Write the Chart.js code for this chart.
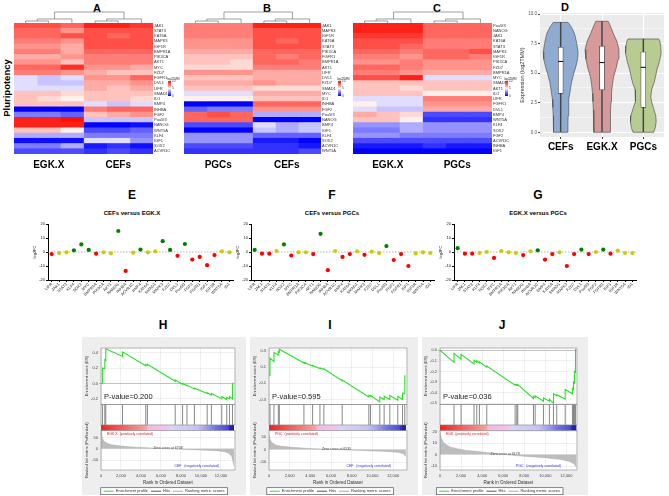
<!DOCTYPE html>
<html>
<head>
<meta charset="utf-8">
<script src="https://cdn.jsdelivr.net/npm/chart.js@4.4.1/dist/chart.umd.min.js"></script>
<style>
  body { margin: 0; width: 669px; height: 496px; position: relative; overflow: hidden; background: #fff; font-family: "Liberation Sans", Arial, sans-serif; }
  canvas { position: absolute; }
  .lbl { position: absolute; font-weight: bold; color: #000; transform: translate(-50%, -50%); white-space: nowrap; line-height: 1; }
</style>
</head>
<body>
<div class="lbl" style="left:97px;top:8px;font-size:11px">A</div>
<div class="lbl" style="left:267px;top:8px;font-size:11px">B</div>
<div class="lbl" style="left:437px;top:8px;font-size:11px">C</div>
<div class="lbl" style="left:565px;top:7px;font-size:11px">D</div>
<div class="lbl" style="left:7px;top:88px;font-size:9.5px;transform:translate(-50%,-50%) rotate(-90deg)">Pluripotency</div>
<div class="lbl" style="left:132px;top:195px;font-size:12px">E</div>
<div class="lbl" style="left:132px;top:213px;font-size:6px">CEFs versus EGK.X</div>
<div class="lbl" style="left:332px;top:195px;font-size:12px">F</div>
<div class="lbl" style="left:332px;top:213px;font-size:6px">CEFs versus PGCs</div>
<div class="lbl" style="left:538px;top:195px;font-size:12px">G</div>
<div class="lbl" style="left:538px;top:213px;font-size:6px">EGK.X versus PGCs</div>
<div class="lbl" style="left:163px;top:325px;font-size:12px">H</div>
<div class="lbl" style="left:330px;top:325px;font-size:12px">I</div>
<div class="lbl" style="left:502px;top:325px;font-size:12px">J</div>
<script>
// ---- heatmaps (log2TMM, 3 replicates per group) ----
const genesA = ["JAK1","STAT3","KAT6A","MAPK3","IGF1R","BMPR1A","PIK3CA","AKT1","MYC","FZD7","FGFR1","DVL1","LIFR","SMAD1","ID1","BMP4","INHBA","FGF2","Pou5f3","NANOG","WNT5A","KLF4","IGF1","SOX2","ACVR1C"];
const heatA = [
  [8.5,8.5,8,9.5,9.5,9],[8,8,7,8.5,8.5,8.5],[8,8,8.5,8.5,8,8.5],[7.5,7.5,7,8.5,8.5,8.5],[7,7,6.5,8.5,8.5,8.5],
  [7.5,7.5,6.5,8,8,8],[6.5,6.5,7,7.5,7.5,7.5],[7,7,6,7.5,7.5,7.5],[8,8,9.2,7,7,6.5],[7.5,7.5,7,6.5,6,6],
  [4.5,4,4.5,7,7,8],[4.5,4,4,6.5,6.5,7],[4.5,4.5,4.5,6.5,6,6.5],[6,6,5.5,6,6,6],[6,5.5,5,6,6,5.5],
  [6,6,6,4.5,4,4.5],[0,0,0,7.5,8,8],[2.5,2.5,2,6,6.5,7],[9.5,9.5,9.8,4,4,4],[9.5,9.5,9.5,0,0,0.3],
  [6,6,5,1.5,1.5,2],[3.5,3.5,3.5,2.5,2.5,2.5],[0.3,0.3,0.3,4.5,4.5,3],[2.5,2.5,3.5,0.5,1,0.3],[1.5,1.5,1.5,1,1.5,1]
];
const genesB = ["JAK1","MAPK3","IGF1R","KAT6A","STAT3","PIK3CA","FGFR1","BMPR1A","AKT1","LIFR","DVL1","FZD7","SMAD1","MYC","ID1","INHBA","FGF2","Pou5f3","NANOG","BMP4","IGF1","KLF4","SOX2","ACVR1C","WNT5A"];
const heatB = [
  [7.5,7.5,7.5,9.5,9.5,9.5],[7.5,7.5,7.5,8.5,8.5,8.5],[7.5,7.5,7.5,8.5,8.5,8.5],[7,7,7,8.5,8,8.5],[7,7,7,8.5,8.5,8.5],
  [6.5,6.5,6.5,8,8,8],[6,6,6,8,7.5,8],[6,6,5.5,8,8,7.5],[5.5,5.5,5.5,7.5,7.5,7.5],[7,7,7,6.5,6.5,6.5],
  [6,6,6,6.5,6.5,6.5],[6.5,6.5,6.5,7,6.5,6.5],[6,6,6,5.5,5.5,5.5],[4.5,4.5,4.5,6.5,6.5,6.5],[5,5,5,6,6,6],
  [0,0,0,8,8,8],[2,2.5,2.5,7,7,7],[8,8.5,8,3.5,3.5,3.5],[8,8,8,0,0,0],[1.5,1.5,1.5,4.5,3.5,4],
  [0,0,0,4,3.5,4],[3,3,3,2,2,2],[3,3,3,0.5,0.5,0],[1.5,1.5,1.5,1,1,0.5],[1,1,1,1,1,1.5]
];
const genesC = ["Pou5f3","NANOG","JAK1","KAT6A","STAT3","MAPK3","IGF1R","PIK3CA","FZD7","BMPR1A","MYC","SMAD1","AKT1","ID1","LIFR","FGFR1","DVL1","BMP4","WNT5A","KLF4","SOX2","FGF2","ACVR1C","INHBA","IGF1"];
const heatC = [
  [9.5,9.5,9.5,8,8,8],[9.5,9.5,9.5,8,8,8],[9,9,9,8,8,8],[8.5,8.5,8.5,7.5,7.5,7.5],[8.5,8.5,8,7.5,7.5,7.5],
  [8,8,7.5,8,8,8.5],[7.5,7.5,7,8,8,7.5],[7,7,7.5,7,7,7],[8,8,7.5,7,7,7],[7.5,7.5,7,6.5,6.5,6.5],
  [8.5,8.5,9.5,4.5,4.5,4.5],[6,6,6,6,6,6],[6,6,5.5,6,6,6],[6,6,6,5,5,5],[4.5,4.5,4.5,7.5,7.5,7.5],
  [5,4.5,4.5,7,7,7],[4.5,4,4,6.5,6.5,6.5],[6.5,6,5.5,1.5,1.5,1.5],[6,6,5,1,1,1],[3,3,3.5,3,3,3],
  [2.5,2.5,3.5,3,3,3],[3,3,2.5,2.5,2.5,2.5],[1.5,1.5,1.5,1.5,1.5,1.5],[0.5,0.5,0.5,1,0.5,0.5],[0,0,0,0,0,0]
];
const keyTicks = [10, 5, 0];

// ---- violin plot ----
const groupsD = ["CEFs", "EGK.X", "PGCs"];
// [expression, half width]
const violinCEF = [[0,0.17],[0.7,0.175],[1.4,0.18],[2.1,0.19],[2.8,0.2],[3.5,0.23],[4.2,0.26],[4.9,0.31],[5.6,0.37],[6.2,0.41],[6.8,0.42],[7.5,0.39],[8.0,0.36],[8.4,0.33],[8.9,0.26],[9.3,0.18]];
const violinEGK = [[0,0.195],[1,0.2],[1.9,0.21],[2.6,0.22],[3.3,0.23],[4,0.25],[4.7,0.28],[5.4,0.34],[6.2,0.39],[7.0,0.41],[7.7,0.36],[8.4,0.27],[9.0,0.2],[9.4,0.15]];
const violinPGC = [[0,0.25],[0.4,0.29],[0.9,0.31],[1.4,0.3],[2.0,0.25],[2.6,0.2],[3.0,0.18],[3.6,0.2],[4.2,0.26],[4.8,0.3],[5.3,0.33],[6.0,0.39],[6.7,0.43],[7.3,0.42],[7.7,0.4],[7.9,0.37]];
const boxQ = [[3.3,7.2],[3.6,7.3],[2.1,6.8]];
const boxMed = [6.0, 5.9, 5.5];
const boxRange = [[0,9.3],[0,9.4],[0,7.9]];

// ---- log2FC dot plots ----
const fcGenes = ["LIFR","JAK1","STAT3","KLF4","SOX2","MYC","BMPR1A","PIK3CA","AKT1","NANOG","INHBA","ACVR1C","BMP4","KAT6A","SMAD1","MAPK3","FZD7","DVL1","Pou5f3","FGF2","FGFR1","IGF1","IGF1R","WNT5A","ID1"];
const fcE = [-1.5,-0.7,-0.2,1.2,5.4,1.5,-1.2,-0.2,-1,15,-13.5,-0.5,1.7,-0.2,0.5,7.7,1.5,-2.7,5.7,-5.4,-3.5,-9.4,-2.2,0.5,-0.2];
const sigE = ["down","ns","ns","up","up","up","down","ns","ns","up","down","ns","up","ns","ns","up","up","down","up","down","down","down","down","ns","ns"];
const fcF = [1.5,-1.2,-1.2,0.7,5.4,-2.5,-0.2,-0.2,-1.5,13,-13,0.7,-3.5,-1.5,0.5,-2,0.2,-0.7,4.2,-5.7,-1.5,-10,-1,-0.2,-0.7];
const sigF = ["up","down","down","ns","up","down","ns","ns","down","up","down","ns","down","down","ns","down","ns","ns","up","down","down","down","ns","ns","ns"];
const fcG = [2.7,-1.2,-1.2,-0.7,0,-4.2,0.7,-0.2,-0.7,-2.2,0.5,1.2,-5.4,-1.5,-0.2,-10,-1.5,1.7,-1.5,0,1.7,-1.2,1,-0.7,-0.7];
const sigG = ["up","down","down","ns","ns","down","ns","ns","ns","down","ns","up","down","down","ns","down","down","up","down","ns","up","down","ns","ns","ns"];

// ---- GSEA ----  [rank, running ES]
const rankTicks = [0, 2000, 4000, 6000, 8000, 10000, 12000];
const esH = [[0,0],[160,0],[160,0.2],[380,0.19],[380,0.31],[480,0.3],[480,0.45],[2150,0.35],[2150,0.41],[4480,0.23],[4480,0.245],[4640,0.235],[4640,0.25],[7420,0.03],[7420,0.045],[8160,-0.01],[8160,0.0],[8600,-0.03],[8600,-0.02],[9340,-0.07],[9340,-0.06],[10620,-0.13],[10620,-0.12],[11040,-0.15],[11040,-0.13],[12080,-0.2],[12080,-0.17],[12580,-0.21],[12580,-0.18],[12860,-0.2],[12860,-0.17],[13150,-0.2],[13150,0.01]];
const hitsH = [160,380,480,2150,4480,4640,7420,8160,8600,9340,10620,11040,12080,12580,12860,13150];
const metricH = [[0,80],[60,60],[150,45],[300,33],[600,24],[1000,18],[2000,12],[3000,8.5],[4500,5],[6708,0],[8500,-3],[10000,-5],[11500,-8],[12300,-12],[12800,-20],[13100,-35],[13300,-75]];
const esI = [[0,0],[97,0],[97,0.21],[480,0.17],[480,0.28],[900,0.25],[900,0.29],[1000,0.285],[1000,0.32],[3380,0.15],[3380,0.16],[4220,0.11],[4220,0.12],[4930,0.08],[4930,0.09],[5310,0.07],[5310,0.08],[7080,-0.07],[7080,-0.06],[9660,-0.27],[9660,-0.25],[9820,-0.26],[9820,-0.25],[10720,-0.33],[10720,-0.27],[11140,-0.3],[11140,-0.26],[11690,-0.3],[11690,-0.25],[12460,-0.31],[12460,-0.26],[12920,-0.3],[12920,-0.22],[13140,-0.23],[13140,0.0]];
const hitsI = [97,480,900,1000,3380,4220,4930,5310,7080,9660,9820,10720,11140,11690,12460,12920,13140];
const metricI = [[0,60],[100,40],[300,27],[700,17],[1200,13],[2500,8],[4000,4],[6535,0],[9000,-4],[11000,-7],[12500,-11],[13000,-17],[13250,-28]];
const esJ = [[0,0],[1330,-0.115],[1330,-0.03],[2000,-0.085],[2000,-0.04],[3230,-0.13],[3230,-0.095],[3490,-0.115],[3490,-0.1],[3740,-0.12],[3740,-0.11],[4440,-0.16],[4440,-0.15],[7130,-0.33],[7130,-0.32],[7290,-0.33],[7290,-0.325],[7380,-0.33],[7380,-0.325],[8870,-0.455],[8870,-0.435],[9030,-0.445],[9030,-0.43],[9820,-0.48],[9820,-0.45],[10380,-0.48],[10380,-0.46],[10770,-0.5],[10770,-0.41],[11080,-0.43],[11080,-0.42],[11880,-0.46],[11880,-0.37],[12570,-0.41],[12570,-0.36],[12670,-0.37],[12670,-0.3],[12760,-0.31],[12760,-0.2],[12860,-0.21],[12860,0.01]];
const hitsJ = [1330,2000,3230,3490,3740,4440,7130,7290,7380,8870,9030,9820,10380,10770,11080,11880,12570,12670,12760,12860];
const metricJ = [[0,20],[100,15],[300,11],[600,8.5],[1000,6.5],[1600,5.2],[2500,3.6],[3800,2.5],[5000,1.2],[6179,0],[8000,-1.5],[10000,-2.8],[11500,-4.3],[12300,-6],[12700,-8],[12950,-11]];

// ---- styles ----
Chart.defaults.font.family = "'Liberation Sans', Arial, sans-serif";
Chart.defaults.animation = false;
Chart.defaults.responsive = false;
Chart.defaults.plugins.tooltip.enabled = false;
Chart.defaults.plugins.legend.display = false;

const sigColor = { up: "#008000", down: "#FF0000", ns: "#CCCC00" };
const violinFill = ["rgba(128,160,205,0.85)", "rgba(210,140,140,0.85)", "rgba(178,200,135,0.9)"];
const bandStops = [[0,"#EE2222"],[0.12,"#F25050"],[0.34,"#F7A0A0"],[0.35,"#F4B8E2"],[0.5,"#F0C4EC"],[0.52,"#D6D6F6"],[0.72,"#C4C4F4"],[0.8,"#9A9AEC"],[0.86,"#7272E6"],[0.95,"#4C4CDA"],[0.97,"#2424BE"],[1,"#1A1AAA"]];

function heatColor(v) {
  const t = Math.max(0, Math.min(1, v / 10));
  if (t < 0.5) {
    const k = t / 0.5;
    return `rgb(${Math.round(250 * k)},${Math.round(245 * k)},255)`;
  }
  const k = (t - 0.5) / 0.5;
  return `rgb(255,${Math.round(240 * (1 - k) + 10 * k)},${Math.round(235 * (1 - k))})`;
}

const isMajor = v => Math.abs(v / 2.5 - Math.round(v / 2.5)) < 1e-6;

// create canvas, then shift padding so the plot area lands on target
function makeChart(box, target, config) {
  const cv = document.createElement("canvas");
  cv.width = box[2]; cv.height = box[3];
  cv.style.left = box[0] + "px"; cv.style.top = box[1] + "px";
  document.body.appendChild(cv);
  const pad = { left: 0, top: 0, right: 0, bottom: 0 };
  config.options.layout = { padding: pad };
  const chart = new Chart(cv, config);
  for (let i = 0; i < 2; i++) {
    const a = chart.chartArea;
    pad.left += (target[0] - box[0]) - a.left;
    pad.top += (target[1] - box[1]) - a.top;
    pad.right += a.right - (target[2] - box[0]);
    pad.bottom += a.bottom - (target[3] - box[1]);
    chart.update();
  }
  return chart;
}

// ---- plugins ----
const dendro = {
  id: "dendro",
  afterDraw(chart) {
    const { ctx, chartArea: a, scales: { x } } = chart;
    const cx = c => x.getPixelForValue(c + 0.5);
    const seg = (x1, y1, x2, y2) => { ctx.beginPath(); ctx.moveTo(x1, y1); ctx.lineTo(x2, y2); ctx.stroke(); };
    ctx.save();
    ctx.strokeStyle = "#777"; ctx.lineWidth = 0.7;
    const mids = [];
    [0, 3].forEach(s => {
      const y1 = a.top - 2, y2 = a.top - 4;
      const a0 = cx(s), a1 = cx(s + 1), a2 = cx(s + 2);
      seg(a0, a.top, a0, y1); seg(a1, a.top, a1, y1); seg(a0, y1, a1, y1);
      const m = (a0 + a1) / 2;
      seg(m, y1, m, y2); seg(a2, a.top, a2, y2); seg(m, y2, a2, y2);
      mids.push((m + a2) / 2);
    });
    const yt = a.top - 11;
    mids.forEach(m => seg(m, a.top - 4, m, yt));
    seg(mids[0], yt, mids[1], yt);
    ctx.restore();
  }
};

const colorKey = {
  id: "colorKey",
  afterDraw(chart, args, o) {
    const ctx = chart.ctx, x = o.x, y = o.y, w = 3, h = 15;
    const g = ctx.createLinearGradient(0, y, 0, y + h);
    g.addColorStop(0, heatColor(10)); g.addColorStop(0.5, heatColor(5)); g.addColorStop(1, heatColor(0));
    ctx.save();
    ctx.fillStyle = g; ctx.fillRect(x, y, w, h);
    ctx.fillStyle = "#333"; ctx.font = "3px 'Liberation Sans'";
    ctx.textBaseline = "middle";
    ctx.fillText("log2TMM", x - 1, y - 2);
    keyTicks.forEach((t, i) => ctx.fillText(String(t), x + w + 1, y + i * h / (keyTicks.length - 1)));
    ctx.restore();
  }
};

const zeroLine = {
  id: "zeroLine",
  beforeDatasetsDraw(chart) {
    const { ctx, chartArea: a, scales: { y } } = chart;
    const py = y.getPixelForValue(0);
    ctx.save();
    ctx.setLineDash([1.5, 1.5]); ctx.strokeStyle = "#888"; ctx.lineWidth = 0.6;
    ctx.beginPath(); ctx.moveTo(a.left, py); ctx.lineTo(a.right, py); ctx.stroke();
    ctx.restore();
  }
};

const panelBg = {
  id: "panelBg",
  beforeDraw(chart) {
    const { ctx, chartArea: a } = chart;
    ctx.save(); ctx.fillStyle = "#EBEBEB"; ctx.fillRect(a.left, a.top, a.width, a.height); ctx.restore();
  }
};

const gseaDeco = {
  id: "gseaDeco",
  beforeDraw(chart) {
    const { ctx, chartArea: a } = chart;
    ctx.save();
    ctx.fillStyle = "#EEEEEE"; ctx.fillRect(0, 0, chart.width, chart.height);
    ctx.fillStyle = "#fff"; ctx.fillRect(a.left, a.top, a.width, a.height);
    const hb = chart.legend && chart.legend.legendHitBoxes;
    if (hb && hb.length) {
      const l = Math.min(...hb.map(b => b.left)) - 3;
      const r = Math.max(...hb.map(b => b.left + b.width)) + 3;
      const t = hb[0].top - 1.5, h = hb[0].height + 3;
      ctx.fillRect(l, t, r - l, h);
      ctx.strokeStyle = "#555"; ctx.lineWidth = 0.7; ctx.strokeRect(l, t, r - l, h);
    }
    ctx.restore();
  },
  afterDatasetsDraw(chart, args, o) {
    const { ctx, chartArea: a, scales: s } = chart;
    ctx.save();
    const xEnd = s.x.getPixelForValue(o.last);
    const g = ctx.createLinearGradient(a.left, 0, xEnd, 0);
    bandStops.forEach(([t, c]) => g.addColorStop(t, c));
    ctx.fillStyle = g;
    ctx.fillRect(a.left, s.yBand.top, xEnd - a.left, s.yBand.height);
    ctx.strokeStyle = "#888"; ctx.lineWidth = 0.6;
    ["yES", "yHit", "yRank"].forEach(id => ctx.strokeRect(a.left, s[id].top, a.width, s[id].height));
    ctx.textBaseline = "middle";
    ctx.fillStyle = "#222"; ctx.font = "7.5px 'Liberation Sans'";
    ctx.fillText(o.pText, a.left + 3, s.yES.bottom - 7);
    ctx.font = "3.5px 'Liberation Sans'";
    ctx.fillStyle = "#E02020"; ctx.fillText(o.pos, a.left + 6, s.yRank.top + 3);
    ctx.fillStyle = "#3030E0"; ctx.textAlign = "right"; ctx.fillText(o.neg, a.right - 16, s.yRank.bottom - 4);
    ctx.fillStyle = "#444"; ctx.textAlign = "center";
    ctx.fillText(o.zero, s.x.getPixelForValue(o.zeroRank), s.yRank.getPixelForValue(0) - 0.5);
    ctx.restore();
  }
};

// ---- builders ----
function heatmap(box, target, genes, matrix, groups, keyPos) {
  return makeChart(box, target, {
    type: "bar",
    data: {
      labels: genes,
      datasets: [0, 1, 2, 3, 4, 5].map(c => ({
        data: genes.map(() => 1),
        backgroundColor: ctx => heatColor(matrix[ctx.dataIndex][c]),
        borderWidth: 0, barPercentage: 1, categoryPercentage: 1
      }))
    },
    options: {
      indexAxis: "y",
      plugins: { colorKey: keyPos },
      scales: {
        x: {
          stacked: true, min: 0, max: 6,
          grid: { display: false, drawTicks: false }, border: { display: false },
          afterBuildTicks: ax => { ax.ticks = [{ value: 1.5 }, { value: 4.5 }]; },
          ticks: { callback: (v, i) => groups[i], color: "#000", padding: 5, font: { size: 10, weight: "bold" } }
        },
        y: {
          stacked: true, position: "right",
          grid: { display: false, drawTicks: false }, border: { display: false },
          ticks: { autoSkip: false, color: "#333", padding: 1, font: { size: 4 } }
        }
      }
    },
    plugins: [dendro, colorKey]
  });
}

function fcPlot(box, target, values, sig) {
  return makeChart(box, target, {
    type: "line",
    data: {
      labels: fcGenes,
      datasets: [{
        data: values, showLine: false, pointRadius: 2.1, pointBorderWidth: 0,
        pointBackgroundColor: sig.map(s => sigColor[s])
      }]
    },
    options: {
      scales: {
        x: {
          offset: true,
          grid: { drawOnChartArea: false, tickLength: 2, color: "#000", offset: false },
          border: { color: "#000", width: 1 },
          ticks: { autoSkip: false, minRotation: 45, maxRotation: 45, color: "#222", padding: 0, font: { size: 4 } }
        },
        y: {
          min: -20, max: 20,
          grid: { drawOnChartArea: false, tickLength: 2, color: "#000" },
          border: { color: "#000", width: 1 },
          ticks: { stepSize: 10, color: "#222", padding: 1, font: { size: 4 } },
          title: { display: true, text: "log2FC", color: "#222", padding: 1, font: { size: 4 } }
        }
      }
    },
    plugins: [zeroLine]
  });
}

function gsea(box, target, cfg) {
  return makeChart(box, target, {
    type: "line",
    data: {
      datasets: [
        { label: "Enrichment profile", data: cfg.es.map(p => ({ x: p[0], y: p[1] })), yAxisID: "yES",
          borderColor: "#2BE02B", borderWidth: 1.1, pointRadius: 0, pointStyle: "line" },
        { label: "Hits", data: cfg.hits.map(r => ({ x: r, y: 0.5 })), yAxisID: "yHit", showLine: false,
          pointStyle: "line", rotation: 90, borderColor: "#555", borderWidth: 0.7,
          pointRadius: ctx => (ctx.chart.scales.yHit ? ctx.chart.scales.yHit.height / 2 : 10) },
        { label: "Ranking metric scores", data: cfg.metric.map(p => ({ x: p[0], y: p[1] })), yAxisID: "yRank",
          borderColor: "#AAAAAA", backgroundColor: "#BDBDBD", fill: "origin", borderWidth: 0.5, pointRadius: 0, pointStyle: "line" }
      ]
    },
    options: {
      plugins: {
        legend: {
          display: true, position: "bottom",
          labels: {
            usePointStyle: true, pointStyleWidth: 10, boxHeight: 3, padding: 3, color: "#333", font: { size: 4 },
            generateLabels: chart => Chart.defaults.plugins.legend.labels.generateLabels(chart).map(it => {
              const ds = chart.data.datasets[it.datasetIndex];
              return Object.assign(it, { rotation: 0, pointStyle: "line", strokeStyle: ds.borderColor, lineWidth: 1 });
            })
          }
        },
        gseaDeco: cfg.deco
      },
      scales: {
        x: {
          type: "linear", min: 0, max: cfg.xmax,
          afterBuildTicks: ax => { ax.ticks = rankTicks.map(v => ({ value: v })); },
          grid: { color: "#E6E6E6", lineWidth: 0.6, tickLength: 2 },
          border: { display: false },
          ticks: { color: "#444", padding: 1, font: { size: 4 }, callback: v => v.toLocaleString("en-US") },
          title: { display: true, text: "Rank in Ordered Dataset", color: "#333", padding: 1, font: { size: 4.5 } }
        },
        // stacked bottom to top
        yRank: {
          stack: "g", stackWeight: 42, position: "left", min: cfg.rankMin, max: cfg.rankMax,
          grid: { color: "#E6E6E6", lineWidth: 0.6, tickLength: 2 },
          border: { display: false },
          ticks: { stepSize: cfg.rankStep, includeBounds: false, color: "#444", padding: 1, font: { size: 4 } },
          title: { display: true, text: "Ranked list metric (PreRanked)", color: "#333", padding: 1, font: { size: 4 } }
        },
        yBand: {
          stack: "g", stackWeight: 6, position: "left", min: 0, max: 1,
          grid: { display: false }, border: { display: false }, ticks: { display: false }
        },
        yHit: {
          stack: "g", stackWeight: 22, position: "left", min: 0, max: 1,
          grid: { display: false }, border: { display: false }, ticks: { display: false }
        },
        yES: {
          stack: "g", stackWeight: 60, position: "left", min: cfg.esMin, max: cfg.esMax,
          grid: { color: c => (Math.abs(c.tick.value) < 1e-9 ? "#999" : "#E6E6E6"), lineWidth: 0.6, tickLength: 2 },
          border: { display: false },
          ticks: { stepSize: 0.1, includeBounds: false, color: "#444", padding: 1, font: { size: 4 }, callback: v => v.toFixed(1) },
          title: { display: true, text: "Enrichment score (ES)", color: "#333", padding: 1, font: { size: 4 } }
        }
      }
    },
    plugins: [gseaDeco]
  });
}

// ---- A, B, C ----
heatmap([0, 0, 182, 176], [14, 23, 153, 154], genesA, heatA, ["EGK.X", "CEFs"], { x: 168, y: 81 });
heatmap([176, 0, 174, 176], [184, 23, 321, 154], genesB, heatB, ["PGCs", "CEFs"], { x: 162, y: 81 });
heatmap([345, 0, 175, 176], [353, 23, 492, 154], genesC, heatC, ["EGK.X", "PGCs"], { x: 160, y: 81 });

// ---- D : one linear x axis, group i sits at x = i ----
const violinSets = [violinCEF, violinEGK, violinPGC].map((v, i) => {
  const right = v.map(p => ({ x: i + p[1], y: p[0] }));
  const left = v.slice().reverse().map(p => ({ x: i - p[1], y: p[0] }));
  return {
    type: "line", order: 4, data: [...right, ...left, right[0]],
    borderColor: "#555", borderWidth: 0.7, backgroundColor: violinFill[i], fill: "shape", pointRadius: 0, tension: 0
  };
});
makeChart([518, 0, 151, 162], [540, 13, 668, 137], {
  type: "bar",
  data: {
    datasets: [
      ...violinSets,
      { type: "bar", data: boxRange.map((r, i) => ({ x: i, y: r })), backgroundColor: "#444", barThickness: 0.8, grouped: false, order: 3 },
      { type: "bar", data: boxQ.map((q, i) => ({ x: i, y: q })), backgroundColor: "#fff", borderColor: "#333", borderWidth: 0.7,
        borderSkipped: false, barThickness: 5, grouped: false, order: 2 },
      { type: "line", data: boxMed.map((m, i) => ({ x: i, y: m })), showLine: false, pointStyle: "line", pointRadius: 2.5,
        borderColor: "#000", borderWidth: 1, order: 1 }
    ]
  },
  options: {
    scales: {
      x: {
        type: "linear", min: -0.5, max: 2.5, offset: false,
        afterBuildTicks: ax => { ax.ticks = groupsD.map((g, i) => ({ value: i })); },
        grid: { color: "#fff", offset: false, tickLength: 2, tickColor: "#444" },
        border: { display: false },
        ticks: { color: "#000", padding: 2, font: { size: 10, weight: "bold" }, callback: (v, i) => groupsD[i] }
      },
      y: {
        min: -0.4, max: 10.1,
        grid: {
          color: "#fff", tickLength: 2,
          lineWidth: c => (isMajor(c.tick.value) ? 1 : 0.5),
          tickColor: c => (isMajor(c.tick.value) ? "#444" : "rgba(0,0,0,0)")
        },
        border: { display: false },
        ticks: {
          stepSize: 1.25, includeBounds: false, color: "#555", padding: 1, font: { size: 4.5 },
          callback: v => (isMajor(v) ? v.toFixed(1) : "")
        },
        title: { display: true, text: "Expression (log2TMM)", color: "#333", padding: 1, font: { size: 5.5 } }
      }
    }
  },
  plugins: [panelBg]
});

// ---- E, F, G ----
fcPlot([12, 220, 225, 84], [48, 226, 232, 280], fcE, sigE);
fcPlot([212, 220, 226, 84], [251, 226, 433, 280], fcF, sigF);
fcPlot([416, 220, 224, 84], [454, 226, 635, 280], fcG, sigG);

// ---- H, I, J ----
gsea([82, 337, 164, 158], [101, 340, 240, 470], {
  es: esH, hits: hitsH, metric: metricH, xmax: 13400, esMin: -0.27, esMax: 0.46, rankMin: -93, rankMax: 80, rankStep: 50,
  deco: { last: 13300, pText: "P-value=0.200", pos: "EGK.X  (positively correlated)", neg: "CEF   (negatively correlated)", zero: "Zero cross at 6708", zeroRank: 6708 }
});
gsea([250, 337, 168, 158], [269, 340, 408, 470], {
  es: esI, hits: hitsI, metric: metricI, xmax: 13350, esMin: -0.36, esMax: 0.335, rankMin: -82, rankMax: 76, rankStep: 50,
  deco: { last: 13250, pText: "P-value=0.595", pos: "PGC  (positively correlated)", neg: "CEF   (negatively correlated)", zero: "Zero cross at 6535", zeroRank: 6535 }
});
gsea([422, 337, 166, 158], [440, 340, 577, 470], {
  es: esJ, hits: hitsJ, metric: metricJ, xmax: 13000, esMin: -0.51, esMax: 0.02, rankMin: -13.5, rankMax: 21, rankStep: 5,
  deco: { last: 12950, pText: "P-value=0.036", pos: "EGK  (positively correlated)", neg: "PGC   (negatively correlated)", zero: "Zero cross at 6179", zeroRank: 6179 }
});
</script>
</body>
</html>
